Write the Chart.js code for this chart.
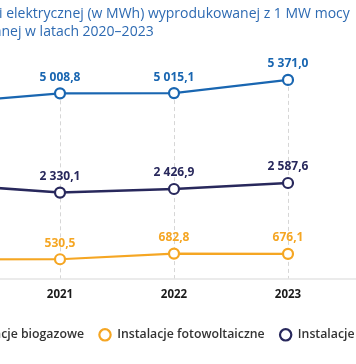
<!DOCTYPE html>
<html><head><meta charset="utf-8">
<script src="https://cdn.jsdelivr.net/npm/chart.js@4"></script>
<style>
html,body{margin:0;padding:0;background:#fff;}
#wrap{position:relative;width:356px;height:364px;overflow:hidden;background:#fff;}
#c{position:absolute;left:-90px;top:0;}
</style></head><body>
<div id="wrap"><canvas id="c" width="536" height="364"></canvas></div>
<script>
const years = ['2020', '2021', '2022', '2023'];
const biogas = [4750.0, 5008.8, 5015.1, 5371.0];
const solar = [525.0, 530.5, 682.8, 676.1];
const wind = [2550.0, 2330.1, 2426.9, 2587.6];
const seriesNames = ['Instalacje biogazowe', 'Instalacje fotowoltaiczne', 'Instalacje wiatrowe'];
const titleLines = ['Ilość energii elektrycznej (w MWh) wyprodukowanej z 1 MW mocy', 'zainstalowanej w latach 2020–2023'];

const fmt = v => {
  const [i, d] = v.toFixed(1).split('.');
  return i.replace(/\B(?=(\d{3})+(?!\d))/g, ' ') + ',' + d;
};

const guides = {
  id: 'guides',
  beforeDatasetsDraw(chart) {
    const { ctx, chartArea } = chart;
    const n = chart.data.labels.length;
    ctx.save();
    ctx.strokeStyle = '#d6d6d6';
    ctx.lineWidth = 1;
    ctx.setLineDash([4, 3]);
    for (let i = 0; i < n; i++) {
      let top = Infinity, x = null;
      chart.data.datasets.forEach((ds, di) => {
        const p = chart.getDatasetMeta(di).data[i];
        if (p) { top = Math.min(top, p.y); x = p.x; }
      });
      ctx.beginPath();
      ctx.moveTo(Math.round(x) + 0.5, top);
      ctx.lineTo(Math.round(x) + 0.5, chartArea.bottom);
      ctx.stroke();
    }
    ctx.setLineDash([]);
    ctx.strokeStyle = '#e4e4e4';
    ctx.lineWidth = 1.5;
    ctx.beginPath();
    ctx.moveTo(0, chartArea.bottom);
    ctx.lineTo(chart.width, chartArea.bottom);
    ctx.stroke();
    ctx.restore();
  }
};

const valueLabels = {
  id: 'valueLabels',
  afterDatasetsDraw(chart) {
    const ctx = chart.ctx;
    ctx.save();
    ctx.font = 'bold 12px "Open Sans"';
    ctx.textAlign = 'center';
    ctx.textBaseline = 'middle';
    chart.data.datasets.forEach((ds, di) => {
      ctx.fillStyle = ds.borderColor;
      chart.getDatasetMeta(di).data.forEach((p, i) => {
        ctx.fillText(fmt(ds.data[i]), p.x, p.y - 16);
      });
    });
    ctx.restore();
  }
};

const mk = (label, data, color, w) => ({
  label, data,
  borderColor: color,
  backgroundColor: '#ffffff',
  borderWidth: w,
  pointRadius: 5,
  pointBorderWidth: 2.2,
  pointBackgroundColor: '#ffffff',
  pointBorderColor: color,
  tension: 0
});

new Chart(document.getElementById('c'), {
  type: 'line',
  data: {
    labels: years,
    datasets: [
      mk(seriesNames[0], biogas, '#1966b1', 2.2),
      mk(seriesNames[1], solar, '#f5a623', 2.2),
      mk(seriesNames[2], wind, '#28285c', 2.6)
    ]
  },
  options: {
    responsive: false,
    animation: false,
    layout: { padding: { left: 15, right: 15, top: 5, bottom: 13 } },
    plugins: {
      tooltip: { enabled: false },
      title: {
        display: true,
        text: titleLines,
        align: 'start',
        color: '#2d6ab2',
        font: { family: 'Open Sans', size: 14, weight: 'normal', lineHeight: 1.3 },
        padding: { top: 0, bottom: 10 }
      },
      legend: {
        position: 'bottom',
        labels: {
          usePointStyle: true,
          pointStyle: 'circle',
          boxWidth: 12,
          boxHeight: 8,
          padding: 15,
          color: '#333333',
          font: { family: 'Open Sans', size: 12.3, weight: 600 }
        }
      }
    },
    scales: {
      x: {
        offset: false,
        grid: { display: false, drawTicks: false },
        border: { display: false },
        ticks: { color: '#1a1a1a', padding: 9, font: { family: 'Open Sans', size: 11.5, weight: 'bold' } },
        afterFit(s) { s.height += 3; }
      },
      y: {
        position: 'left',
        min: 0, max: 6140,
        grid: { display: false, drawTicks: false },
        border: { display: false },
        ticks: { display: false },
        afterFit(s) { s.width = 21; }
      },
      y2: {
        position: 'right',
        min: 0, max: 1,
        grid: { display: false, drawTicks: false },
        border: { display: false },
        ticks: { display: false },
        afterFit(s) { s.width = 143; }
      }
    }
  },
  plugins: [guides, valueLabels]
});
</script>
</body></html>
